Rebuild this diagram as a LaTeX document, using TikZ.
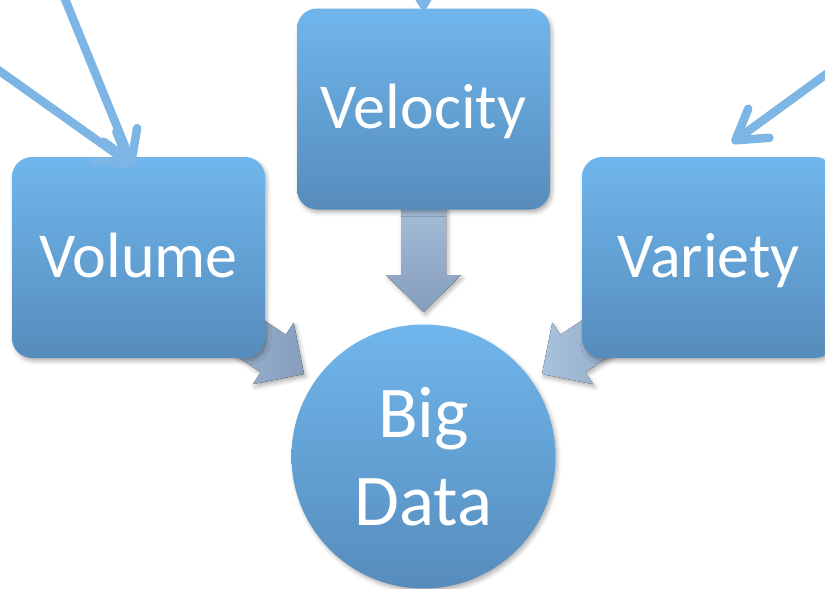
\documentclass[tikz,border=0pt]{standalone}
\usepackage{fontspec}
\setmainfont{Carlito}
\usetikzlibrary{arrows.meta,calc,shadows.blur}
\definecolor{boxtop}{RGB}{112,182,236}
\definecolor{boxbot}{RGB}{86,140,188}
\definecolor{arrtop}{RGB}{168,193,220}
\definecolor{arrbot}{RGB}{134,158,189}
\definecolor{thinblue}{RGB}{125,182,229}
\begin{document}
\begin{tikzpicture}[x=1pt,y=-1pt,
  softshadow/.style={blur shadow={shadow xshift=2pt, shadow yshift=-3pt, shadow opacity=30, shadow blur radius=4pt}},
  vbox/.style={rectangle, rounded corners=20pt, minimum width=253pt, minimum height=201pt,
    inner sep=0pt, top color=boxtop, bottom color=boxbot, draw=none, text=white,
    font=\fontsize{64}{77}\selectfont, text height=45pt, text depth=6pt, softshadow},
  bigc/.style={circle, minimum size=264pt, inner sep=0pt, top color=boxtop, bottom color=boxbot,
    draw=none, text=white, align=center, font=\fontsize{73}{88}\selectfont, softshadow},
  fatarrow/.style={left color=arrtop, right color=arrbot, draw=none, softshadow},
  fatarrowv/.style={top color=arrtop, bottom color=arrbot, draw=none, softshadow},
  thinarrow/.style={draw=thinblue, line width=8.5pt, line cap=round,
    -{Straight Barb[length=29pt, width=36pt, line cap=round, line join=round]}}
]
\clip (0,0) rectangle (825,589);

% block arrows (behind the shapes)
\fill[fatarrowv] (423.5,312) -- (461,275) -- (446,275) -- (446,190) -- (401,190)
  -- (401,275) -- (386,275) -- cycle;
\begin{scope}[shift={(304,374)}, rotate=-33.7]
  \fill[fatarrow] (0,0) -- (-37,37) -- (-37,22.5) -- (-140,22.5) -- (-140,-22.5)
    -- (-37,-22.5) -- (-37,-37) -- cycle;
\end{scope}
\begin{scope}[shift={(542,374)}, rotate=-146.3]
  \fill[fatarrow] (0,0) -- (-37,37) -- (-37,22.5) -- (-140,22.5) -- (-140,-22.5)
    -- (-37,-22.5) -- (-37,-37) -- cycle;
\end{scope}

% shapes
\node[vbox] (vol) at (138.5,257.5) {Volume};
\node[vbox] (vel) at (423.5,109) {Velocity};
\node[vbox] (vari) at (708.5,257.5) {Variety};
\node[bigc] (big) at (423.5,456.5) {Big\\Data};

% thin incoming arrows
\coordinate (s1) at (58,-18);
\coordinate (s2) at (-30,50);
\coordinate (sv) at (423.5,-60);
\coordinate (svar) at (917,8);
\coordinate (tvol) at ([xshift=-5.5pt, yshift=-9pt]vol.north);
\coordinate (tvel) at ([yshift=-1pt]vel.north);
\coordinate (tvar) at ([xshift=23.5pt, yshift=14pt]vari.north);
\draw[thinarrow] (s1) -- (tvol);
\draw[thinarrow] (s2) -- (tvol);
\draw[thinarrow] (sv) -- (tvel);
\draw[thinarrow] (svar) -- (tvar);
\end{tikzpicture}
\end{document}
